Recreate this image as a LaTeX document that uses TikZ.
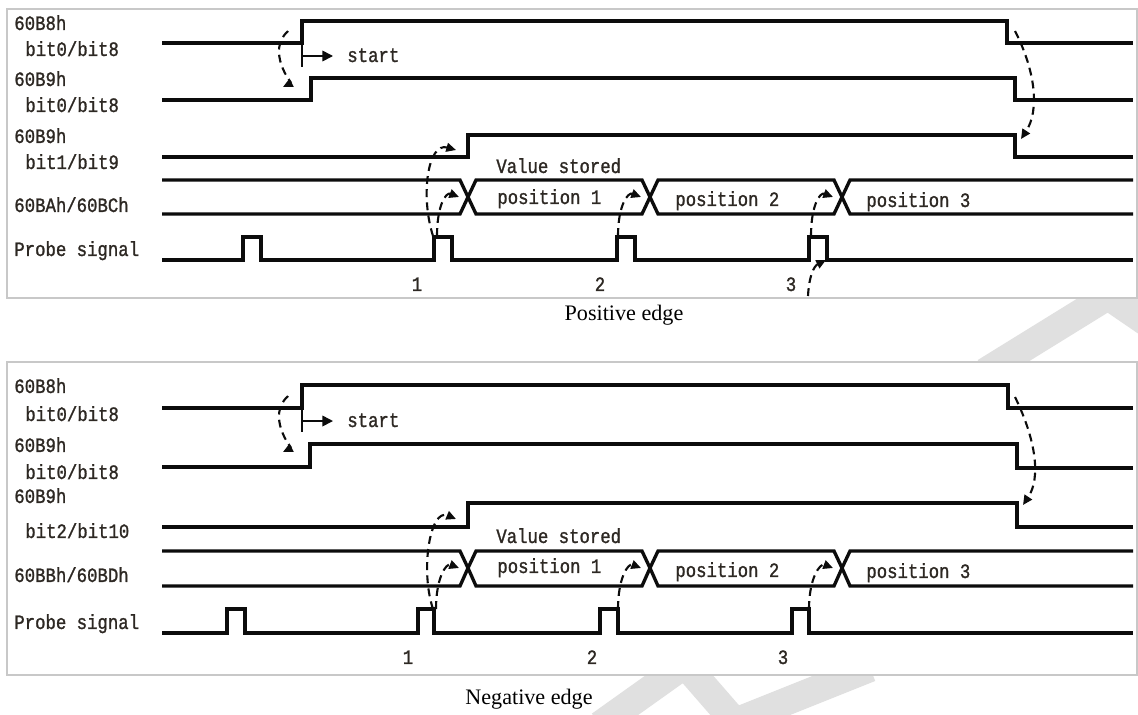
\documentclass[tikz,border=0pt]{standalone}
\usepackage{fontspec}
\setmainfont{Liberation Serif}
\setmonofont[FakeStretch=0.85, FakeBold=1.2]{Liberation Mono}
\usetikzlibrary{arrows.meta}
\definecolor{waveink}{RGB}{12,12,12}
\definecolor{textink}{RGB}{45,40,35}
\definecolor{panelgray}{RGB}{200,200,200}
\definecolor{markgray}{RGB}{224,224,224}

\begin{document}
\begin{tikzpicture}[
  x=0.02cm, y=-0.02cm,
  wave/.style={draw=waveink, line width=1.9pt},
  cue/.style={draw=waveink, line width=1.2pt, dash pattern=on 4.5pt off 3pt,
              -{Triangle[length=5.5pt, width=5pt]}},
  tick/.style={draw=waveink, line width=0.9pt},
  tag/.style={anchor=west, inner sep=0pt, text=textink,
              text height=6.8pt, text depth=0pt,
              font=\ttfamily\fontsize{11.6}{13}\selectfont},
  num/.style={tag, anchor=center},
  capt/.style={inner sep=0pt, text height=8pt, text depth=0pt,
               font=\fontsize{12.6}{14}\selectfont},
  panel/.style={draw=panelgray, fill=white, line width=0.6pt},
  wmark/.style={draw=markgray, line width=0.56cm},
]

%% Wave x-positions (pixel grid of the reference)
\def\xL{162}   % left end of all waves
\def\xR{1133}  % right end of all waves
\def\cA{468}   % bus crossing 1
\def\cB{650}   % bus crossing 2
\def\cC{842}   % bus crossing 3
\def\hw{8}     % half width of a crossing

\useasboundingbox (0,0) rectangle (1138,714);
\fill[white] (0,0) rectangle (1138,714);

%% faint watermark behind the panels
\draw[wmark] (985,372) -- (1108,296) -- (1165,335);
\draw[wmark] (600,725) -- (680,668);
\draw[wmark] (688,668) -- (735,722) -- (870,668);

%% ---- frames and captions ----
\draw[panel] (7,9) rectangle (1137,298);
\draw[panel] (7,362) rectangle (1137,675);
\node[capt] (capP) at (624,313) {Positive edge};
\node[capt] (capN) at (529,697) {Negative edge};

%% ==== PANEL 1: Positive edge ====
\node[tag] (pA1) at (14,24)  {60B8h};
\node[tag] (pA2) at (25,50)  {bit0/bit8};
\node[tag] (pB1) at (14,80)  {60B9h};
\node[tag] (pB2) at (25,106) {bit0/bit8};
\node[tag] (pC1) at (14,137) {60B9h};
\node[tag] (pC2) at (25,163) {bit1/bit9};
\node[tag] (pD)  at (14,206) {60BAh/60BCh};
\node[tag] (pE)  at (14,250) {Probe signal};

\draw[wave] (\xL,43) -- (302,43) -- (302,21) -- (1007,21) -- (1007,43) -- (\xR,43);
\draw[wave] (\xL,100) -- (311,100) -- (311,78) -- (1015,78) -- (1015,100) -- (\xR,100);
\draw[wave] (\xL,157) -- (468,157) -- (468,135) -- (1015,135) -- (1015,157) -- (\xR,157);

% bus
\draw[wave] (\xL,180) -- ({\cA-\hw},180) -- (\cA,197) -- ({\cA-\hw},214) -- (\xL,214);
\draw[wave] (\cA,197) -- ({\cA+\hw},180) -- ({\cB-\hw},180) -- (\cB,197)
  -- ({\cB-\hw},214) -- ({\cA+\hw},214) -- cycle;
\draw[wave] (\cB,197) -- ({\cB+\hw},180) -- ({\cC-\hw},180) -- (\cC,197)
  -- ({\cC-\hw},214) -- ({\cB+\hw},214) -- cycle;
\draw[wave] (\xR,180) -- ({\cC+\hw},180) -- (\cC,197) -- ({\cC+\hw},214) -- (\xR,214);
\node[tag] (pVal) at (496,167) {Value stored};
\node[tag] (pPos1) at (497,198) {position 1};
\node[tag] (pPos2) at (675,200) {position 2};
\node[tag] (pPos3) at (866,201) {position 3};

% probe
\draw[wave] (\xL,260) -- (243,260) -- (243,237) -- (261,237) -- (261,260)
  -- (434,260) -- (434,237) -- (452,237) -- (452,260)
  -- (617,260) -- (617,237) -- (635,237) -- (635,260)
  -- (809,260) -- (809,237) -- (827,237) -- (827,260) -- (\xR,260);
\node[num] (pN1) at (417,285) {1};
\node[num] (pN2) at (600,285) {2};
\node[num] (pN3) at (791,285) {3};

% start marker
\coordinate (pSt) at (302,56);
\node[tag] (pStart) at (347,56) {start};
\draw[tick] (302,43) -- (302,67);
\draw[tick, -{Triangle[length=6pt, width=6pt]}, shorten >=0.28cm] (pSt) -- (pStart.west);

% dashed cues
\coordinate (pa) at (288,31);   \coordinate (pb) at (283,87);
\coordinate (pc) at (1015,31);  \coordinate (pd) at (1021,139);
\coordinate (pp1) at (433,236); \coordinate (pq1) at (456,150);
\coordinate (pr1) at (437,236); \coordinate (ps1) at (459,197);
\coordinate (pr2) at (618,236); \coordinate (ps2) at (641,197);
\coordinate (pr3) at (811,236); \coordinate (ps3) at (833,197);
\coordinate (pu) at (808,296);  \coordinate (pv) at (826,260);
\draw[cue] (pa) .. controls +(-22,20) and +(8,-4) .. (pb);
\draw[cue] (pc) .. controls +(20,39) and +(19,-29) .. (pd);
\draw[cue] (pp1) .. controls +(-13,-41) and +(-28,-8) .. (pq1);
\foreach \i in {1,2,3}{
  \draw[cue] (pr\i) .. controls +(0,-31) and +(-13,-5) .. (ps\i);
}
\draw[cue] (pu) .. controls +(1,-20) and +(-12,6) .. (pv);

%% ==== PANEL 2: Negative edge ====
\node[tag] (nA1) at (14,387) {60B8h};
\node[tag] (nA2) at (25,415) {bit0/bit8};
\node[tag] (nB1) at (14,446) {60B9h};
\node[tag] (nB2) at (25,473) {bit0/bit8};
\node[tag] (nC1) at (14,497) {60B9h};
\node[tag] (nC2) at (25,532) {bit2/bit10};
\node[tag] (nD)  at (14,576) {60BBh/60BDh};
\node[tag] (nE)  at (14,623) {Probe signal};

\draw[wave] (\xL,408) -- (302,408) -- (302,385) -- (1008,385) -- (1008,408) -- (\xR,408);
\draw[wave] (\xL,467) -- (310,467) -- (310,444) -- (1017,444) -- (1017,468) -- (\xR,468);
\draw[wave] (\xL,527) -- (468,527) -- (468,503) -- (1017,503) -- (1017,527) -- (\xR,527);

% bus
\draw[wave] (\xL,551) -- ({\cA-\hw},551) -- (\cA,568) -- ({\cA-\hw},586) -- (\xL,586);
\draw[wave] (\cA,568) -- ({\cA+\hw},551) -- ({\cB-\hw},551) -- (\cB,568)
  -- ({\cB-\hw},586) -- ({\cA+\hw},586) -- cycle;
\draw[wave] (\cB,568) -- ({\cB+\hw},551) -- ({\cC-\hw},551) -- (\cC,568)
  -- ({\cC-\hw},586) -- ({\cB+\hw},586) -- cycle;
\draw[wave] (\xR,551) -- ({\cC+\hw},551) -- (\cC,568) -- ({\cC+\hw},586) -- (\xR,586);
\node[tag] (nVal) at (496,537) {Value stored};
\node[tag] (nPos1) at (497,567) {position 1};
\node[tag] (nPos2) at (675,571) {position 2};
\node[tag] (nPos3) at (866,572) {position 3};

% probe
\draw[wave] (\xL,633) -- (227,633) -- (227,609) -- (245,609) -- (245,633)
  -- (418,633) -- (418,609) -- (434,609) -- (434,633)
  -- (600,633) -- (600,609) -- (618,609) -- (618,633)
  -- (792,633) -- (792,609) -- (809,609) -- (809,633) -- (\xR,633);
\node[num] (nN1) at (408,658) {1};
\node[num] (nN2) at (592,658) {2};
\node[num] (nN3) at (783,658) {3};

% start marker
\coordinate (nSt) at (302,421);
\node[tag] (nStart) at (347,421) {start};
\draw[tick] (302,408) -- (302,432);
\draw[tick, -{Triangle[length=6pt, width=6pt]}, shorten >=0.28cm] (nSt) -- (nStart.west);

% dashed cues
\coordinate (na) at (288,396);  \coordinate (nb) at (283,452);
\coordinate (nc) at (1015,397); \coordinate (nd) at (1023,505);
\coordinate (np1) at (433,609); \coordinate (nq1) at (456,519);
\coordinate (nr1) at (436,609); \coordinate (ns1) at (459,568);
\coordinate (nr2) at (618,609); \coordinate (ns2) at (641,568);
\coordinate (nr3) at (809,609); \coordinate (ns3) at (833,568);
\draw[cue] (na) .. controls +(-22,20) and +(8,-4) .. (nb);
\draw[cue] (nc) .. controls +(21,43) and +(18,-27) .. (nd);
\draw[cue] (np1) .. controls +(-13,-39) and +(-26,-11) .. (nq1);
\foreach \i in {1,2,3}{
  \draw[cue] (nr\i) .. controls +(0,-31) and +(-13,-5) .. (ns\i);
}

\end{tikzpicture}
\end{document}
